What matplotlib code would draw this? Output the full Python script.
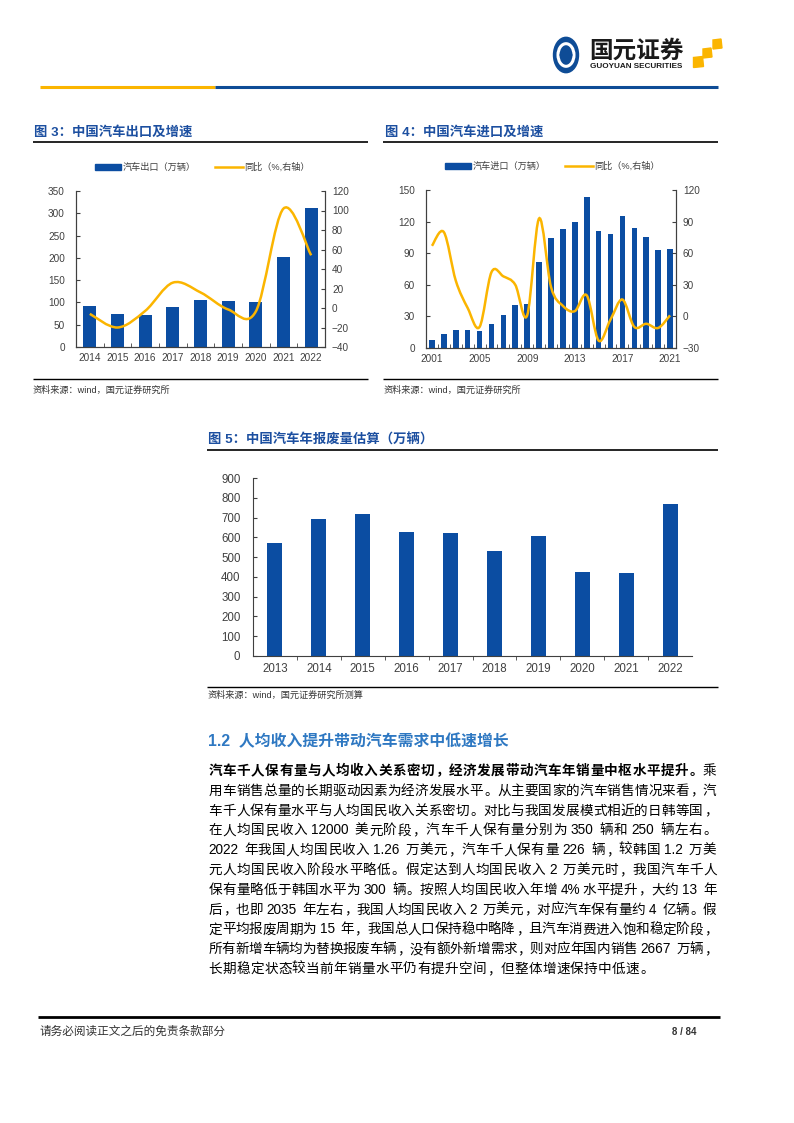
import numpy as np
import matplotlib
matplotlib.use('Agg')
import matplotlib.pyplot as plt
from matplotlib.path import Path
from matplotlib.patches import PathPatch, Rectangle, Circle, Polygon
from matplotlib.lines import Line2D

plt.rcParams['font.family'] = ['Liberation Sans', 'Noto Sans CJK SC']

# ---- 数据 ----
export_years = ['2014', '2015', '2016', '2017', '2018', '2019', '2020', '2021', '2022']
export_vol = [92, 74, 72, 90, 105, 103, 100, 202, 311]
export_yoy = [-6, -20, -3, 26, 16, -1.5, -3.5, 102, 54]

import_years = [str(y) for y in range(2001, 2022)]
import_vol = [7.5, 13, 17, 17.5, 16, 23, 31.5, 41, 42, 82, 104, 113, 120, 143,
              111, 108, 125, 113.5, 105, 93.5, 94]
import_yoy = [67, 80, 34, 8, -10, 42, 38, 30, 1, 93, 28, 10, 5, 20,
              -23, -3, 16, -10, -7, -11, 1]

scrap_years = ['2013', '2014', '2015', '2016', '2017', '2018', '2019', '2020', '2021', '2022']
scrap_vol = [570, 694, 717, 627, 622, 533, 607, 426, 421, 767]

body_lines = [
    [('汽车千人保有量与人均收入关系密切，经济发展带动汽车年销量中枢水平提升。', 'bold'), ('乘', 'normal')],
    [('用车销售总量的长期驱动因素为经济发展水平。从主要国家的汽车销售情况来看，汽', 'normal')],
    [('车千人保有量水平与人均国民收入关系密切。对比与我国发展模式相近的日韩等国，', 'normal')],
    [('在人均国民收入 12000 美元阶段，汽车千人保有量分别为 350 辆和 250 辆左右。', 'normal')],
    [('2022 年我国人均国民收入 1.26 万美元，汽车千人保有量 226 辆，较韩国 1.2 万美', 'normal')],
    [('元人均国民收入阶段水平略低。假定达到人均国民收入 2 万美元时，我国汽车千人', 'normal')],
    [('保有量略低于韩国水平为 300 辆。按照人均国民收入年增 4%水平提升，大约 13 年', 'normal')],
    [('后，也即 2035 年左右，我国人均国民收入 2 万美元，对应汽车保有量约 4 亿辆。假', 'normal')],
    [('定平均报废周期为 15 年，我国总人口保持稳中略降，且汽车消费进入饱和稳定阶段，', 'normal')],
    [('所有新增车辆均为替换报废车辆，没有额外新增需求，则对应年国内销售 2667 万辆，', 'normal')],
    [('长期稳定状态较当前年销量水平仍有提升空间，但整体增速保持中低速。', 'normal')],
]

BLUE = '#0B4DA2'
GOLD = '#FBB500'
TITLE_BLUE = '#1C4FA0'
AXC = '#404040'
TXT = '#404040'

W, H = 794, 1123
fig = plt.figure(figsize=(W / 100, H / 100), dpi=100)


def fx(x):
    return x / W


def fy(y):
    return 1 - y / H


def hline(x0, x1, y, color='black', lw=1.0):
    fig.add_artist(Line2D([fx(x0), fx(x1)], [fy(y), fy(y)], color=color, lw=lw,
                          transform=fig.transFigure, solid_capstyle='butt'))


def smooth_path(xs, ys):
    # Catmull-Rom 转贝塞尔，模拟 Excel 平滑线
    pts = np.column_stack([xs, ys]).astype(float)
    n = len(pts)
    verts = [pts[0]]
    codes = [Path.MOVETO]
    for i in range(n - 1):
        p0 = pts[i - 1] if i > 0 else pts[i]
        p1 = pts[i]
        p2 = pts[i + 1]
        p3 = pts[i + 2] if i + 2 < n else pts[i + 1]
        c1 = p1 + (p2 - p0) / 6
        c2 = p2 - (p3 - p1) / 6
        verts += [c1, c2, p2]
        codes += [Path.CURVE4] * 3
    return Path(verts, codes)


def style_axes(ax, ax2, lab_size):
    for s in ['top']:
        ax.spines[s].set_visible(False)
        ax2.spines[s].set_visible(False)
    for s in ['left', 'bottom', 'right']:
        ax.spines[s].set_color(AXC)
        ax2.spines[s].set_color(AXC)
    ax.tick_params(axis='y', direction='in', length=3, color=AXC, labelsize=lab_size,
                   labelcolor=TXT, pad=8)
    ax2.tick_params(axis='y', direction='in', length=3, color=AXC, labelsize=lab_size,
                    labelcolor=TXT, pad=5)
    ax.tick_params(axis='x', which='major', length=0, labelsize=lab_size, labelcolor=TXT, pad=4)
    ax.tick_params(axis='x', which='minor', direction='in', length=3, color=AXC)


def legend_items(x0, y, bar_label, line_label):
    fig.add_artist(Rectangle((fx(x0), fy(y + 3)), fx(26), 6 / H, color=BLUE,
                             transform=fig.transFigure))
    fig.text(fx(x0 + 28), fy(y), bar_label, fontsize=6.6, color=TXT, va='center')
    fig.add_artist(Line2D([fx(x0 + 120), fx(x0 + 148)], [fy(y), fy(y)], color=GOLD, lw=1.8,
                          transform=fig.transFigure))
    fig.text(fx(x0 + 149), fy(y), line_label, fontsize=6.6, color=TXT, va='center')


# ---- 页眉 ----
hline(40, 215, 87, GOLD, 2.2)
hline(215, 718, 87, '#0E4C96', 2.2)
fig.add_artist(Circle((fx(566), fy(55)), 12.5 / W, color='#0E4C96', transform=fig.transFigure))
fig.add_artist(Circle((fx(566), fy(55)), 8 / W, fill=False, ec='white', lw=2.2,
                      transform=fig.transFigure))
fig.add_artist(Polygon([(fx(566), fy(49)), (fx(572), fy(55)), (fx(566), fy(61)), (fx(560), fy(55))],
                       color='#0E4C96', transform=fig.transFigure))
fig.text(fx(589), fy(51), '国元证券', fontsize=17, weight='bold', color='#1a1a1a', va='center')
fig.text(fx(590), fy(67), 'GUOYUAN SECURITIES', fontsize=5.9, weight='bold', color='#1a1a1a',
         va='center')
for (cx, cy, s) in [(717, 44, 8), (707, 53, 8), (698, 62, 9)]:
    fig.add_artist(Polygon([(fx(cx - s / 2), fy(cy - s / 2)), (fx(cx + s / 2), fy(cy - s / 2 - 1)),
                            (fx(cx + s / 2 + 1), fy(cy + s / 2)), (fx(cx - s / 2), fy(cy + s / 2 + 1))],
                           color=GOLD, transform=fig.transFigure))

# ---- 图3 ----
fig.text(fx(34), fy(132), '图 3：中国汽车出口及增速', fontsize=9.6, weight='bold',
         color=TITLE_BLUE, va='center')
hline(33, 368, 142, 'black', 1.2)
legend_items(95, 167, '汽车出口（万辆）', '同比（%,右轴）')

ax3 = fig.add_axes([fx(76), fy(347), fx(325) - fx(76), fy(191) - fy(347)])
x3 = np.arange(len(export_years))
ax3.bar(x3, export_vol, width=0.47, color=BLUE, zorder=2)
ax3.set_xlim(-0.5, len(export_years) - 0.5)
ax3.set_ylim(0, 350)
ax3.set_yticks(np.arange(0, 351, 50))
ax3.set_xticks(x3)
ax3.set_xticklabels(export_years)
ax3.set_xticks(np.arange(0.5, len(export_years) - 0.5, 1), minor=True)
ax3b = ax3.twinx()
ax3b.set_ylim(-40, 120)
ax3b.set_yticks(np.arange(-40, 121, 20))
ax3b.add_patch(PathPatch(smooth_path(x3, export_yoy), fill=False, ec=GOLD, lw=1.8, zorder=3))
style_axes(ax3, ax3b, 7.2)

hline(33, 368, 379, 'black', 1.0)
fig.text(fx(33), fy(390), '资料来源：wind，国元证券研究所', fontsize=6.6, color='#333333', va='center')

# ---- 图4 ----
fig.text(fx(385), fy(132), '图 4：中国汽车进口及增速', fontsize=9.6, weight='bold',
         color=TITLE_BLUE, va='center')
hline(383, 718, 142, 'black', 1.2)
legend_items(445, 166, '汽车进口（万辆）', '同比（%,右轴）')

ax4 = fig.add_axes([fx(426), fy(348), fx(676) - fx(426), fy(190) - fy(348)])
x4 = np.arange(len(import_years))
ax4.bar(x4, import_vol, width=0.47, color=BLUE, zorder=2)
ax4.set_xlim(-0.5, len(import_years) - 0.5)
ax4.set_ylim(0, 150)
ax4.set_yticks(np.arange(0, 151, 30))
ax4.set_xticks(x4[::4])
ax4.set_xticklabels(import_years[::4])
ax4.set_xticks(np.arange(0.5, len(import_years) - 0.5, 1), minor=True)
ax4b = ax4.twinx()
ax4b.set_ylim(-30, 120)
ax4b.set_yticks(np.arange(-30, 121, 30))
ax4b.add_patch(PathPatch(smooth_path(x4, import_yoy), fill=False, ec=GOLD, lw=1.8, zorder=3))
style_axes(ax4, ax4b, 7.2)

hline(383, 718, 379, 'black', 1.0)
fig.text(fx(384), fy(390), '资料来源：wind，国元证券研究所', fontsize=6.6, color='#333333', va='center')

# ---- 图5 ----
fig.text(fx(208), fy(440), '图 5：中国汽车年报废量估算（万辆）', fontsize=9.6, weight='bold',
         color=TITLE_BLUE, va='center')
hline(207, 718, 450, 'black', 1.2)

ax5 = fig.add_axes([fx(253), fy(656), fx(692) - fx(253), fy(478) - fy(656)])
x5 = np.arange(len(scrap_years))
ax5.bar(x5, scrap_vol, width=0.34, color=BLUE, zorder=2)
ax5.set_xlim(-0.5, len(scrap_years) - 0.5)
ax5.set_ylim(0, 900)
ax5.set_yticks(np.arange(0, 901, 100))
ax5.set_xticks(x5)
ax5.set_xticklabels(scrap_years)
ax5.set_xticks(np.arange(0.5, len(scrap_years) - 0.5, 1), minor=True)
for s in ['top', 'right']:
    ax5.spines[s].set_visible(False)
for s in ['left', 'bottom']:
    ax5.spines[s].set_color(AXC)
ax5.tick_params(axis='y', direction='in', length=3, color=AXC, labelsize=8.3, labelcolor=TXT, pad=9)
ax5.tick_params(axis='x', which='major', length=0, labelsize=8.3, labelcolor=TXT, pad=5)
ax5.tick_params(axis='x', which='minor', direction='out', length=3, color=AXC)

hline(207, 718, 687, 'black', 1.0)
fig.text(fx(208), fy(695), '资料来源：wind，国元证券研究所测算', fontsize=6.6, color='#333333',
         va='center')

# ---- 正文 ----
fig.text(fx(208), fy(741), '1.2  人均收入提升带动汽车需求中低速增长', fontsize=11.4, weight='bold',
         color='#2E78C2', va='center')

renderer = fig.canvas.get_renderer()
EM = 13.6
PUNCT = '，。：；、'


def draw_body_line(segments, y, justify=True):
    tokens = []
    for text, weight in segments:
        buf, buf_sp, space = '', False, False
        for ch in text:
            if ch == ' ':
                if buf:
                    tokens.append([buf, weight, False, buf_sp])
                    buf = ''
                space = True
            elif ord(ch) < 128:
                if not buf:
                    buf_sp = space
                    space = False
                buf += ch
            else:
                if buf:
                    tokens.append([buf, weight, False, buf_sp])
                    buf = ''
                tokens.append([ch, weight, True, space])
                space = False
        if buf:
            tokens.append([buf, weight, False, buf_sp])
    arts = []
    widths = []
    for tk, weight, cjk, sp in tokens:
        t = fig.text(0, fy(y), tk, fontsize=EM * 0.72, weight=weight, color='black', va='center')
        arts.append(t)
        if cjk:
            widths.append(EM)
        else:
            widths.append(t.get_window_extent(renderer).width + 1)
    sw = 0.3 * EM
    nsp = sum(1 for t in tokens if t[3])
    x0, x1 = 208, 716
    if justify:
        g = (x1 - x0 - sum(widths) - nsp * sw) / (len(tokens) - 1)
    else:
        g = 0.3
    x = x0
    for (tk, weight, cjk, sp), t, w in zip(tokens, arts, widths):
        if sp:
            x += sw
        if cjk and tk in PUNCT:
            t.set_x(fx(x + 0.1 * EM))
        elif cjk:
            t.set_x(fx(x + 0.04 * EM))
        else:
            t.set_x(fx(x))
        x += w + g


for i, segs in enumerate(body_lines):
    draw_body_line(segs, 771 + i * 19.8, justify=(i < len(body_lines) - 1))

# ---- 页脚 ----
hline(38, 720, 1017, 'black', 2.0)
fig.text(fx(40), fy(1032), '请务必阅读正文之后的免责条款部分', fontsize=8.4, color='#333333', va='center')
fig.text(fx(697), fy(1032), '8 / 84', fontsize=7, weight='bold', color='#333333', va='center', ha='right')

fig.savefig('out.png', dpi=100)
